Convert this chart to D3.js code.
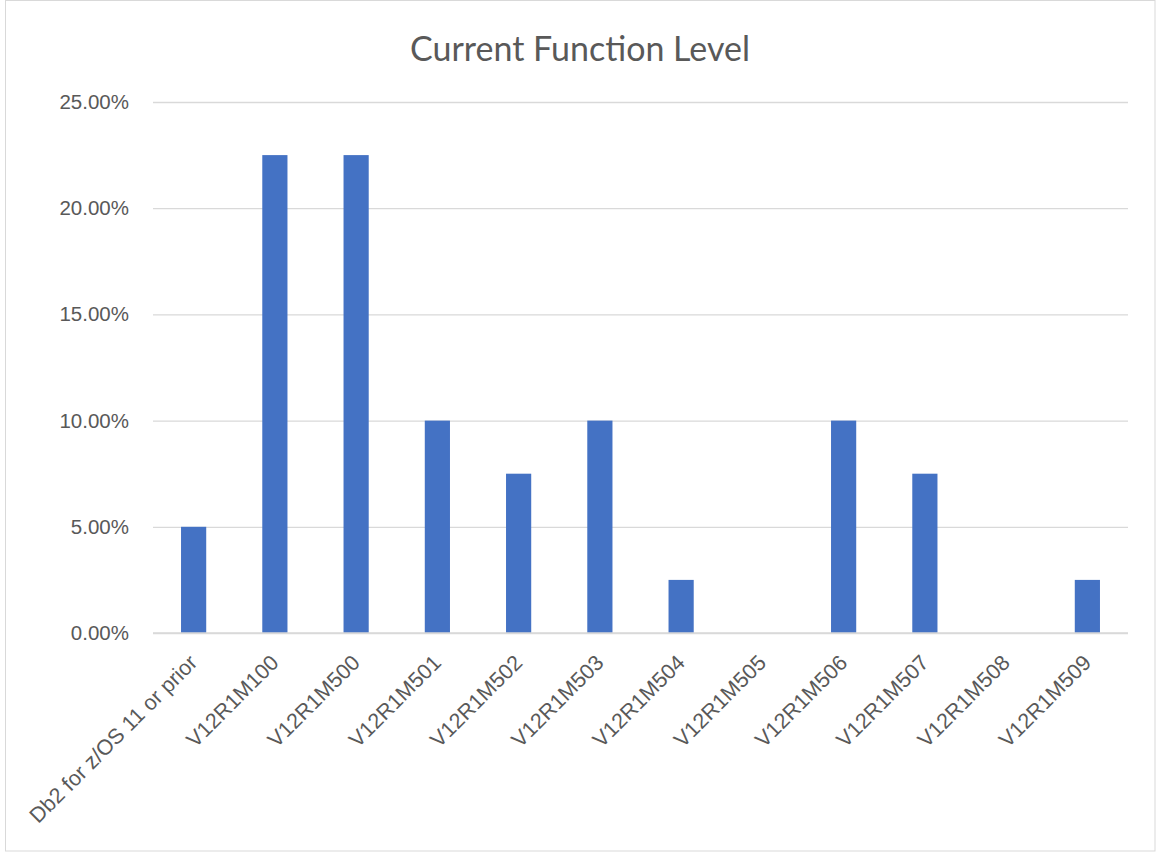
<!DOCTYPE html>
<html>
<head>
<meta charset="utf-8">
<script src="https://cdn.jsdelivr.net/npm/d3@7"></script>
<style>
  html, body { margin: 0; padding: 0; background: #fff; }
  svg { display: block; font-family: Lato, "Open Sans", sans-serif; }
</style>
</head>
<body>
<svg id="chart" width="1157" height="852"></svg>
<script>
// Share of systems at each current function level
const categories = [
  "Db2 for z/OS 11 or prior", "V12R1M100", "V12R1M500", "V12R1M501",
  "V12R1M502", "V12R1M503", "V12R1M504", "V12R1M505",
  "V12R1M506", "V12R1M507", "V12R1M508", "V12R1M509"
];
const shares = [0.05, 0.225, 0.225, 0.10, 0.075, 0.10, 0.025, 0, 0.10, 0.075, 0, 0.025];
const yTicks = [0, 0.05, 0.10, 0.15, 0.20, 0.25];
const chartTitle = "Current Function Level";

const svg = d3.select("#chart");
const plot = { left: 153, right: 1128, top: 102, bottom: 633 };
const textColor = "#595959";

// outer chart border
svg.append("rect")
  .attr("x", 5.5).attr("y", 0.5)
  .attr("width", 1149.5).attr("height", 850.5)
  .attr("fill", "#fff").attr("stroke", "#D9D9D9").attr("stroke-width", 1);

const x = d3.scaleBand()
  .domain(categories)
  .range([plot.left, plot.right])
  .paddingInner(0.69).paddingOuter(0.345);

const y = d3.scaleLinear()
  .domain([0, 0.25])
  .range([plot.bottom, plot.top]);

// horizontal gridlines and y labels
const yAxis = d3.axisLeft(y)
  .tickValues(yTicks)
  .tickFormat(d => (d * 100).toFixed(2) + "%")
  .tickSize(-(plot.right - plot.left))
  .tickPadding(24);

const gy = svg.append("g")
  .attr("transform", `translate(${plot.left},0)`)
  .call(yAxis);
gy.select(".domain").remove();
gy.selectAll(".tick line").attr("stroke", "#D9D9D9").attr("stroke-width", 1.3);
gy.selectAll(".tick text")
  .attr("fill", textColor)
  .style("font-size", "20.5px");

// bars
svg.append("g")
  .selectAll("rect")
  .data(categories.map((c, i) => ({ c, v: shares[i] })))
  .join("rect")
  .attr("x", d => x(d.c))
  .attr("y", d => y(d.v))
  .attr("width", x.bandwidth())
  .attr("height", d => y(0) - y(d.v))
  .attr("fill", "#4472C4");

// baseline
svg.append("line")
  .attr("x1", plot.left).attr("x2", plot.right)
  .attr("y1", y(0)).attr("y2", y(0))
  .attr("stroke", "#D9D9D9").attr("stroke-width", 1.5);

// rotated category labels
const xAxis = d3.axisBottom(x).tickSize(0).tickPadding(0);
const gx = svg.append("g")
  .attr("transform", `translate(0,${plot.bottom})`)
  .call(xAxis);
gx.select(".domain").remove();
gx.selectAll(".tick text")
  .attr("fill", textColor)
  .style("font-size", "21.5px")
  .attr("text-anchor", "end")
  .attr("dy", null)
  .attr("transform", "translate(5,31) rotate(-45)");

// title
svg.append("text")
  .attr("x", 580).attr("y", 61)
  .attr("text-anchor", "middle")
  .attr("fill", textColor)
  .style("font-size", "34px")
  .text(chartTitle);
</script>
</body>
</html>
